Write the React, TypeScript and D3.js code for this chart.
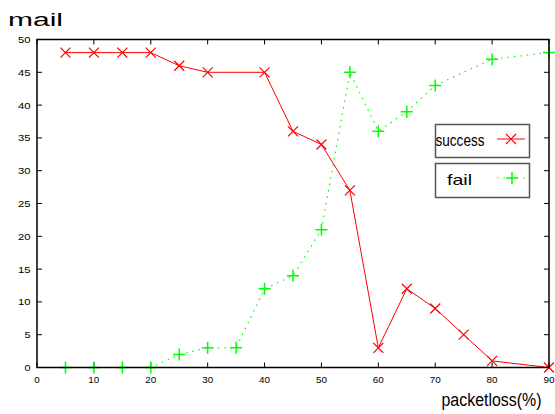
import React, { useEffect, useRef } from "react";
import * as d3 from "d3";

// packet loss (%) on the x axis
const successX = [5, 10, 15, 20, 25, 30, 40, 45, 50, 55, 60, 65, 70, 75, 80, 90];
const successY = [48, 48, 48, 48, 46, 45, 45, 36, 34, 27, 3, 12, 9, 5, 1, 0];
const failX = [5, 10, 15, 20, 25, 30, 35, 40, 45, 50, 55, 60, 65, 70, 80, 90];
const failY = [0, 0, 0, 0, 2, 3, 3, 12, 14, 21, 45, 36, 39, 43, 47, 48];
const xTicks = [0, 10, 20, 30, 40, 50, 60, 70, 80, 90];
const yTicks = [0, 5, 10, 15, 20, 25, 30, 35, 40, 45, 50];

const App = () => {
  const svgRef = useRef<SVGSVGElement>(null);

  useEffect(() => {
    const svg = d3.select(svgRef.current);
    svg.selectAll("*").remove();

    const left = 37, right = 549, top = 39.5, bottom = 367.5;
    const x = d3.scaleLinear().domain([0, 90]).range([left, right]);
    const y = d3.scaleLinear().domain([0, 50]).range([bottom, top]);
    const font = "'Liberation Sans', Arial, sans-serif";

    // title
    svg.append("text")
      .attr("x", 8).attr("y", 25.5)
      .attr("font-family", font).attr("font-size", 18)
      .attr("textLength", 55).attr("lengthAdjust", "spacingAndGlyphs")
      .text("mail");

    // ticks on all four sides, pointing inward
    const g = svg.append("g").attr("stroke", "#000").attr("stroke-width", 1);
    xTicks.forEach((t) => {
      g.append("line").attr("x1", x(t)).attr("x2", x(t)).attr("y1", bottom).attr("y2", bottom - 5);
      g.append("line").attr("x1", x(t)).attr("x2", x(t)).attr("y1", top).attr("y2", top + 5);
    });
    yTicks.forEach((t) => {
      g.append("line").attr("x1", left).attr("x2", left + 5).attr("y1", y(t)).attr("y2", y(t));
      g.append("line").attr("x1", right).attr("x2", right - 5).attr("y1", y(t)).attr("y2", y(t));
    });

    svg.selectAll(".xl").data(xTicks).join("text")
      .attr("x", (d) => x(d)).attr("y", 382.5)
      .attr("text-anchor", "middle")
      .attr("font-family", font).attr("font-size", 9)
      .attr("textLength", (d) => (d < 10 ? 5.5 : 11)).attr("lengthAdjust", "spacingAndGlyphs")
      .text((d) => d);

    svg.selectAll(".yl").data(yTicks).join("text")
      .attr("x", 30.5).attr("y", (d) => y(d) + 3.5)
      .attr("text-anchor", "end")
      .attr("font-family", font).attr("font-size", 9.5)
      .attr("textLength", (d) => (d < 10 ? 6 : 12.5)).attr("lengthAdjust", "spacingAndGlyphs")
      .text((d) => d);

    svg.append("text")
      .attr("x", 441.5).attr("y", 406)
      .attr("font-family", font).attr("font-size", 18)
      .attr("textLength", 100).attr("lengthAdjust", "spacingAndGlyphs")
      .text("packetloss(%)");

    const line = d3.line<[number, number]>().x((d) => x(d[0])).y((d) => y(d[1]));
    const succ = successX.map((v, i) => [v, successY[i]] as [number, number]);
    const fail = failX.map((v, i) => [v, failY[i]] as [number, number]);

    svg.append("path").attr("d", line(fail)).attr("fill", "none")
      .attr("stroke", "#00ff00").attr("stroke-width", 1.2).attr("stroke-dasharray", "1.5,5");
    svg.append("path").attr("d", line(succ)).attr("fill", "none")
      .attr("stroke", "#ff0000").attr("stroke-width", 1);

    const cross = (cx: number, cy: number, s = 5) =>
      `M${cx - s},${cy - s}L${cx + s},${cy + s}M${cx - s},${cy + s}L${cx + s},${cy - s}`;
    const plus = (cx: number, cy: number, s = 6) =>
      `M${cx - s},${cy}L${cx + s},${cy}M${cx},${cy - s}L${cx},${cy + s}`;

    svg.selectAll(".mf").data(fail).join("path")
      .attr("d", (d) => plus(x(d[0]), y(d[1])))
      .attr("stroke", "#00ff00").attr("stroke-width", 1.5);
    svg.selectAll(".ms").data(succ).join("path")
      .attr("d", (d) => cross(x(d[0]), y(d[1])))
      .attr("stroke", "#ff0000").attr("stroke-width", 1.2);

    // border
    svg.append("rect")
      .attr("x", left).attr("y", top).attr("width", right - left).attr("height", bottom - top)
      .attr("fill", "none").attr("stroke", "#000").attr("stroke-width", 1.5);

    // legend
    const lg = svg.append("g");
    lg.append("rect").attr("x", 435.5).attr("y", 124.5).attr("width", 94).attr("height", 33)
      .attr("fill", "#fff").attr("stroke", "#555").attr("stroke-width", 1.5);
    lg.append("rect").attr("x", 435.5).attr("y", 163.5).attr("width", 94).attr("height", 34)
      .attr("fill", "#fff").attr("stroke", "#555").attr("stroke-width", 1.5);
    lg.append("text").attr("x", 435.5).attr("y", 145.5)
      .attr("font-family", font).attr("font-size", 17)
      .attr("textLength", 49).attr("lengthAdjust", "spacingAndGlyphs").text("success");
    lg.append("text").attr("x", 447).attr("y", 185)
      .attr("font-family", font).attr("font-size", 15)
      .attr("textLength", 25).attr("lengthAdjust", "spacingAndGlyphs").text("fail");
    lg.append("line").attr("x1", 497).attr("x2", 525).attr("y1", 139).attr("y2", 139)
      .attr("stroke", "#ff0000").attr("stroke-width", 1);
    lg.append("path").attr("d", cross(511, 139)).attr("stroke", "#ff0000").attr("stroke-width", 1.2);
    lg.append("line").attr("x1", 497).attr("x2", 525).attr("y1", 178).attr("y2", 178)
      .attr("stroke", "#00ff00").attr("stroke-width", 1.2).attr("stroke-dasharray", "1.5,5");
    lg.append("path").attr("d", plus(512, 178)).attr("stroke", "#00ff00").attr("stroke-width", 1.5);
  }, []);

  return (
    <svg
      ref={svgRef}
      width={555}
      height={414}
      style={{ position: "absolute", left: 0, top: 0, background: "#fff" }}
    />
  );
};

export default App;
